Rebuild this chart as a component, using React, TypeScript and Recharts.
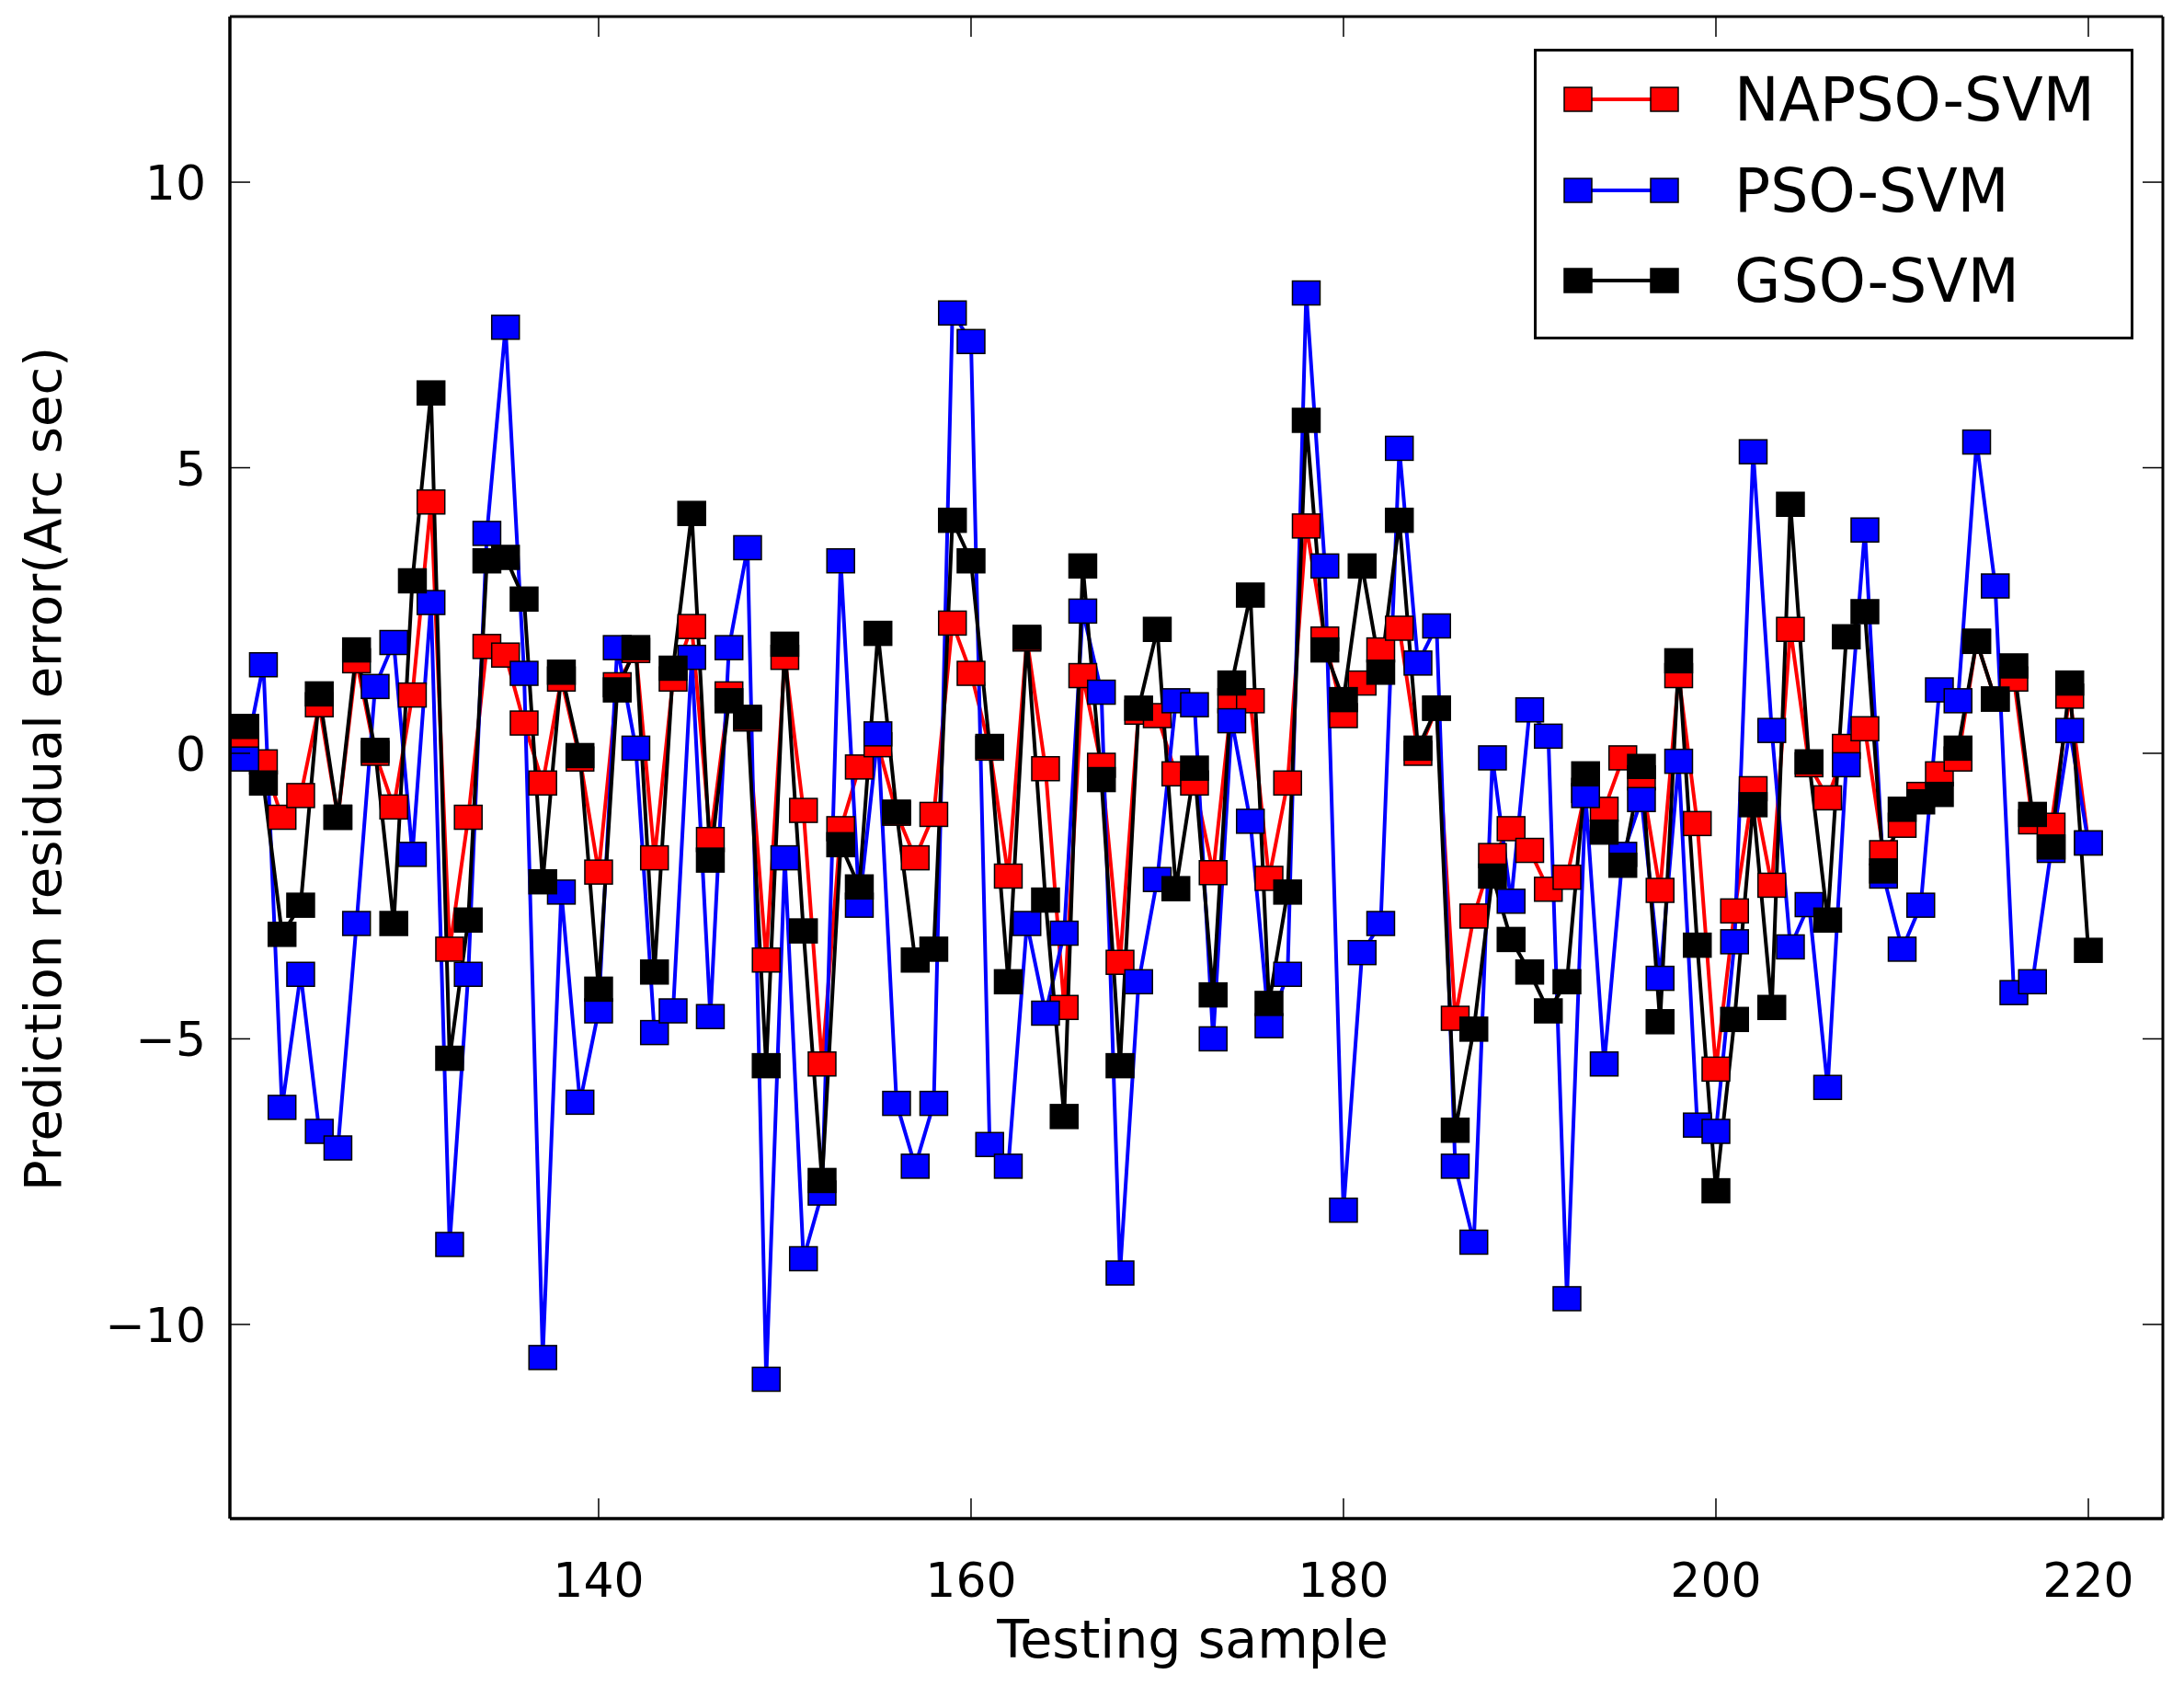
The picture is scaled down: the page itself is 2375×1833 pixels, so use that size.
import React from 'react';
import { LineChart, Line, XAxis, YAxis, Legend } from 'recharts';

// sample index of the first point, one point per sample after that
const FIRST_SAMPLE = 121;

const napso = [
  0.21, -0.15, -1.12, -0.74, 0.85, -1.12, 1.62, 0.0, -0.94, 1.02,
  4.4, -3.43, -1.12, 1.87, 1.72, 0.53, -0.52, 1.3, -0.1, -2.08,
  1.2, 1.8, -1.83, 1.3, 2.22, -1.51, 1.04, 0.6, -3.62, 1.68,
  -1.0, -5.44, -1.32, -0.24, 0.15, -1.05, -1.83, -1.07, 2.28, 1.4,
  0.09, -2.15, 2.0, -0.27, -4.45, 1.36, -0.21, -3.66, 0.72, 0.66,
  -0.36, -0.52, -2.09, 0.92, 0.92, -2.19, -0.52, 3.98, 2.0, 0.66,
  1.23, 1.81, 2.19, 0.0, 0.79, -4.64, -2.85, -1.79, -1.32, -1.7,
  -2.38, -2.17, -0.65, -0.98, -0.08, -0.43, -2.4, 1.36, -1.23, -5.53,
  -2.76, -0.62, -2.31, 2.17, -0.2, -0.78, 0.12, 0.43, -1.74, -1.26,
  -0.72, -0.36, -0.1, 1.96, 0.95, 1.3, -1.2, -1.26, 1.0, -1.57,
];

const pso = [
  -0.1, 1.55, -6.2, -3.87, -6.62, -6.91, -2.98, 1.17, 1.94, -1.77,
  2.64, -8.6, -3.87, 3.85, 7.46, 1.4, -10.58, -2.43, -6.11, -4.51,
  1.85, 0.09, -4.89, -4.51, 1.68, -4.61, 1.85, 3.6, -10.96, -1.83,
  -8.85, -7.7, 3.37, -2.66, 0.34, -6.13, -7.23, -6.13, 7.71, 7.21,
  -6.85, -7.23, -2.98, -4.55, -3.15, 2.49, 1.07, -9.1, -4.0, -2.21,
  0.92, 0.85, -5.0, 0.57, -1.19, -4.77, -3.87, 8.06, 3.28, -8.0,
  -3.49, -2.98, 5.34, 1.58, 2.23, -7.23, -8.56, -0.08, -2.59, 0.76,
  0.3, -9.55, -0.74, -5.44, -1.77, -0.81, -3.94, -0.14, -6.51, -6.62,
  -3.3, 5.28, 0.4, -3.39, -2.65, -5.85, -0.2, 3.91, -2.15, -3.43,
  -2.66, 1.11, 0.92, 5.45, 2.93, -4.19, -4.0, -1.7, 0.4, -1.57,
];

const gso = [
  0.47, -0.52, -3.17, -2.66, 1.04, -1.12, 1.81, 0.05, -2.98, 3.02,
  6.31, -5.34, -2.92, 3.37, 3.43, 2.7, -2.25, 1.42, -0.04, -4.13,
  1.11, 1.85, -3.83, 1.49, 4.2, -1.87, 0.92, 0.63, -5.47, 1.91,
  -3.11, -7.48, -1.6, -2.34, 2.1, -1.03, -3.62, -3.43, 4.08, 3.37,
  0.12, -4.0, 2.03, -2.57, -6.36, 3.28, -0.46, -5.47, 0.79, 2.17,
  -2.37, -0.26, -4.23, 1.23, 2.77, -4.38, -2.43, 5.83, 1.81, 0.94,
  3.28, 1.42, 4.08, 0.09, 0.79, -6.6, -4.83, -2.15, -3.26, -3.83,
  -4.51, -4.0, -0.36, -1.38, -1.96, -0.23, -4.7, 1.62, -3.36, -7.66,
  -4.66, -0.9, -4.45, 4.36, -0.15, -2.92, 2.04, 2.48, -2.06, -0.98,
  -0.85, -0.72, 0.09, 1.96, 0.95, 1.53, -1.07, -1.64, 1.23, -3.45,
];

const xTicks = [140, 160, 180, 200, 220];
const yTicks = [-10, -5, 0, 5, 10];
const seriesNames = ['NAPSO-SVM', 'PSO-SVM', 'GSO-SVM'];
const seriesColors = ['#ff0000', '#0000ff', '#000000'];

const data = napso.map((v, i) => ({
  x: FIRST_SAMPLE + i,
  napso: v,
  pso: pso[i],
  gso: gso[i],
}));

const W = 2375;
const H = 1833;
const LEFT = 250;
const RIGHT = 2352;
const TOP = 18;
const BOTTOM = 1651;
const TICK_LEN = 22;
const FONT = 'DejaVu Sans';
const LINE_W = 4;
const MW = 30;
const MH = 26;

const fmt = (v: number) => (v < 0 ? '\u2212' + Math.abs(v) : String(v));

const XTick = (props: any) => {
  const { x, payload } = props;
  return (
    <g>
      <line x1={x} x2={x} y1={BOTTOM} y2={BOTTOM - TICK_LEN} stroke="#000" strokeWidth={1.5} />
      <line x1={x} x2={x} y1={TOP} y2={TOP + TICK_LEN} stroke="#000" strokeWidth={1.5} />
      <text x={x} y={1736} textAnchor="middle" fontSize={52} fontFamily={FONT} fill="#000">
        {fmt(payload.value)}
      </text>
    </g>
  );
};

const YTick = (props: any) => {
  const { y, payload } = props;
  return (
    <g>
      <line x1={LEFT} x2={LEFT + TICK_LEN} y1={y} y2={y} stroke="#000" strokeWidth={1.5} />
      <line x1={RIGHT} x2={RIGHT - TICK_LEN} y1={y} y2={y} stroke="#000" strokeWidth={1.5} />
      <text x={224} y={y + 19} textAnchor="end" fontSize={52} fontFamily={FONT} fill="#000">
        {fmt(payload.value)}
      </text>
    </g>
  );
};

const squareDot = (color: string) => (props: any) => {
  const { cx, cy, index } = props;
  if (cx == null || cy == null) return <g key={index} />;
  return (
    <rect
      key={index}
      x={cx - MW / 2}
      y={cy - MH / 2}
      width={MW}
      height={MH}
      fill={color}
      stroke="#000"
      strokeWidth={1.5}
    />
  );
};

const LegendBox = () => {
  const rows = [55, 154, 252];
  return (
    <svg width={652} height={316} style={{ display: 'block' }}>
      <rect x={1.5} y={1.5} width={649} height={313} fill="#fff" stroke="#000" strokeWidth={3} />
      {seriesNames.map((name, i) => (
        <g key={name}>
          <line x1={48} x2={142} y1={rows[i]} y2={rows[i]} stroke={seriesColors[i]} strokeWidth={LINE_W} />
          <rect x={48 - MW / 2} y={rows[i] - MH / 2} width={MW} height={MH} fill={seriesColors[i]} stroke="#000" strokeWidth={1.5} />
          <rect x={142 - MW / 2} y={rows[i] - MH / 2} width={MW} height={MH} fill={seriesColors[i]} stroke="#000" strokeWidth={1.5} />
          <text x={218} y={rows[i] + 23} fontSize={65} fontFamily={FONT} fill="#000">
            {name}
          </text>
        </g>
      ))}
    </svg>
  );
};

export default function App() {
  return (
    <div style={{ position: 'absolute', left: 0, top: 0, width: W, height: H, background: '#fff' }}>
      <LineChart
        width={W}
        height={H}
        data={data}
        margin={{ top: 0, right: 0, bottom: 0, left: 0 }}
      >
        <XAxis
          dataKey="x"
          type="number"
          domain={[120.2, 224]}
          allowDataOverflow
          ticks={xTicks}
          interval={0}
          height={H - BOTTOM}
          tickLine={false}
          tick={<XTick />}
          axisLine={{ stroke: '#000', strokeWidth: 3.5 }}
          label={{
            content: () => (
              <text x={1297} y={1802} textAnchor="middle" fontSize={57} fontFamily={FONT} fill="#000">
                Testing sample
              </text>
            ),
          }}
        />
        <XAxis
          xAxisId="top"
          orientation="top"
          dataKey="x"
          type="number"
          domain={[120.2, 224]}
          allowDataOverflow
          height={TOP}
          tick={false}
          tickLine={false}
          axisLine={{ stroke: '#000', strokeWidth: 3 }}
        />
        <YAxis
          type="number"
          domain={[-13.4, 12.9]}
          allowDataOverflow
          ticks={yTicks}
          interval={0}
          width={LEFT}
          tickLine={false}
          tick={<YTick />}
          axisLine={{ stroke: '#000', strokeWidth: 3.5 }}
          label={{
            content: () => (
              <text
                transform="translate(66, 836) rotate(-90)"
                textAnchor="middle"
                fontSize={56}
                fontFamily={FONT}
                fill="#000"
              >
                Prediction residual error(Arc sec)
              </text>
            ),
          }}
        />
        <YAxis
          yAxisId="right"
          orientation="right"
          type="number"
          domain={[-13.4, 12.9]}
          allowDataOverflow
          width={W - RIGHT}
          tick={false}
          tickLine={false}
          axisLine={{ stroke: '#000', strokeWidth: 3 }}
        />
        <Line
          type="linear"
          dataKey="napso"
          name={seriesNames[0]}
          stroke={seriesColors[0]}
          strokeWidth={LINE_W}
          dot={squareDot(seriesColors[0])}
          activeDot={false}
          isAnimationActive={false}
        />
        <Line
          type="linear"
          dataKey="pso"
          name={seriesNames[1]}
          stroke={seriesColors[1]}
          strokeWidth={LINE_W}
          dot={squareDot(seriesColors[1])}
          activeDot={false}
          isAnimationActive={false}
        />
        <Line
          type="linear"
          dataKey="gso"
          name={seriesNames[2]}
          stroke={seriesColors[2]}
          strokeWidth={LINE_W}
          dot={squareDot(seriesColors[2])}
          activeDot={false}
          isAnimationActive={false}
        />
        <Legend
          layout="vertical"
          align="center"
          verticalAlign="middle"
          wrapperStyle={{ position: 'absolute', left: 1668, top: 53, width: 652, height: 316 }}
          content={() => <LegendBox />}
        />
      </LineChart>
    </div>
  );
}
